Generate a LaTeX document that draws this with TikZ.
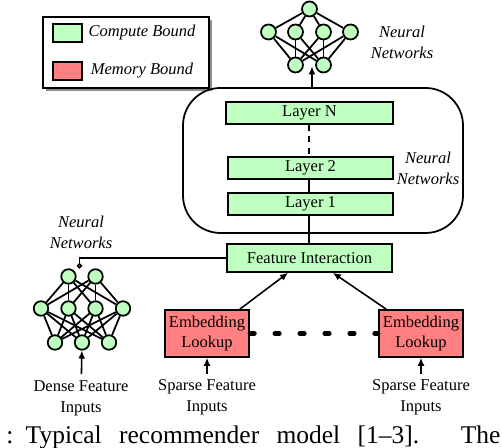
\documentclass[tikz,border=0pt]{standalone}
\usepackage{fontspec}
\setmainfont{Liberation Serif}
\usepackage{tikz}
\usetikzlibrary{calc}
\usetikzlibrary{arrows.meta}
\usetikzlibrary{shadows}
\usepackage{xcolor}
\definecolor{computegreen}{rgb}{0.75,1.0,0.75}
\definecolor{memoryred}{rgb}{1.0,0.5,0.5}
\tikzset{
  txt/.style={font=\fontsize{9.4}{11.8}\selectfont, align=center},
  ittxt/.style={font=\fontsize{9.4}{11.8}\selectfont\itshape, align=center},
  layerbox/.style={draw=black, line width=1pt, fill=computegreen,
    minimum width=3.3cm, minimum height=0.44cm, inner sep=0pt, txt},
  embbox/.style={draw=black, line width=1pt, fill=memoryred,
    minimum width=1.68cm, minimum height=0.94cm, inner sep=0pt, txt},
  swatch/.style={draw=black, line width=1pt, minimum width=0.58cm, minimum height=0.36cm, inner sep=0pt},
  neuron/.style={circle, draw=black, line width=1pt, fill=computegreen,
    minimum size=0.3cm, inner sep=0pt},
  synapse/.style={black, line width=1pt},
  conn/.style={black, line width=0.9pt},
  arr/.style={conn, -{Latex[length=4.5pt, width=4pt]}},
}

\begin{document}
\begin{tikzpicture}

%%%%%%%%%%%%%%%%%%%%%%%%%%%%%%%%%%%%%%%%%%%%%%%%%%%%%%%%%%%%%% Setup
\coordinate (C) at (0, 0);
% just to have the same boundaries as the figure
\useasboundingbox ($(C)+(0,0)$) rectangle ($(C)+(10.04,8.96)$);

%%%%%%%%%%%%%%%%%%%%%%%%%%%%%%%%%%%%%%%%%%%%%%%%%%%%%%%%%%%%%% Legend
\node[draw=black, line width=1pt, fill=white, minimum width=3.32cm, minimum height=1.42cm,
  drop shadow={shadow xshift=0.06cm, shadow yshift=-0.06cm, fill=black!45, opacity=1}]
  (legend) at ($(C)+(2.52,7.91)$) {};
\node[swatch, fill=computegreen] (legcomp) at ($(C)+(1.35,8.30)$) {};
\node[swatch, fill=memoryred] (legmem) at ($(C)+(1.35,7.54)$) {};
\node[ittxt] (legcomptxt) at ($(C)+(2.84,8.30)$) {Compute Bound};
\node[ittxt] (legmemtxt) at ($(C)+(2.84,7.54)$) {Memory Bound};

%%%%%%%%%%%%%%%%%%%%%%%%%%%%%%%%%%%%%%%%%%%%%%%%%%%%%%%%%%%%%% Top network
\node[neuron] (tt)  at ($(C)+(6.19,8.78)$) {};
\node[neuron] (tm1) at ($(C)+(5.37,8.32)$) {};
\node[neuron] (tm2) at ($(C)+(5.91,8.32)$) {};
\node[neuron] (tm3) at ($(C)+(6.47,8.32)$) {};
\node[neuron] (tm4) at ($(C)+(7.01,8.32)$) {};
\node[neuron] (tb1) at ($(C)+(5.91,7.66)$) {};
\node[neuron] (tb2) at ($(C)+(6.47,7.66)$) {};

\draw[synapse] (tt) -- (tm1);
\draw[synapse] (tt) -- (tm2);
\draw[synapse] (tt) -- (tm3);
\draw[synapse] (tt) -- (tm4);

\draw[synapse] (tm1) -- (tb1);
\draw[synapse] (tm1) -- (tb2);
\draw[synapse] (tm2) -- (tb1);
\draw[synapse] (tm2) -- (tb2);
\draw[synapse] (tm3) -- (tb1);
\draw[synapse] (tm3) -- (tb2);
\draw[synapse] (tm4) -- (tb1);
\draw[synapse] (tm4) -- (tb2);

\node[ittxt] (topnntxt) at ($(C)+(8.04,8.12)$) {Neural\\Networks};

%%%%%%%%%%%%%%%%%%%%%%%%%%%%%%%%%%%%%%%%%%%%%%%%%%%%%%%%%%%%%% Layers
\node[draw=black, line width=1pt, rounded corners=0.75cm, minimum width=5.6cm, minimum height=2.9cm]
  (nnbox) at ($(C)+(6.46,5.75)$) {};

\node[layerbox, minimum width=3.34cm] (layerN) at ($(C)+(6.19,6.70)$) {Layer N};
\node[layerbox] (layer2) at ($(C)+(6.21,5.60)$) {Layer 2};
\node[layerbox] (layer1) at ($(C)+(6.21,4.88)$) {Layer 1};

\node[ittxt] (midnntxt) at ($(C)+(8.56,5.60)$) {Neural\\Networks};

\draw[conn, dash pattern=on 3.5pt off 3pt] (layerN.south -| C) ++(6.18,0) coordinate (dashtop) -- (dashtop |- layer2.north);
\draw[conn] (layer1.north -| dashtop) -- (layer2.south -| dashtop);

\coordinate (topin) at ($(C)+(6.24,7.63)$);
\draw[arr] (nnbox.north -| topin) -- (topin);

%%%%%%%%%%%%%%%%%%%%%%%%%%%%%%%%%%%%%%%%%%%%%%%%%%%%%%%%%%%%%% Feature interaction
\node[layerbox, minimum width=3.3cm, minimum height=0.56cm] (fi) at ($(C)+(6.19,3.80)$) {Feature Interaction};
\draw[conn] (layer1.south -| dashtop) -- (fi.north -| dashtop);

%%%%%%%%%%%%%%%%%%%%%%%%%%%%%%%%%%%%%%%%%%%%%%%%%%%%%%%%%%%%%% Left network
\node[neuron, minimum size=0.29cm] (lt1) at ($(C)+(1.37,3.43)$) {};
\node[neuron, minimum size=0.29cm] (lt2) at ($(C)+(1.91,3.43)$) {};
\node[neuron, minimum size=0.29cm] (lm1) at ($(C)+(0.82,2.79)$) {};
\node[neuron, minimum size=0.29cm] (lm2) at ($(C)+(1.37,2.79)$) {};
\node[neuron, minimum size=0.29cm] (lm3) at ($(C)+(1.91,2.79)$) {};
\node[neuron, minimum size=0.29cm] (lm4) at ($(C)+(2.46,2.79)$) {};
\node[neuron, minimum size=0.29cm] (lb1) at ($(C)+(1.10,2.11)$) {};
\node[neuron, minimum size=0.29cm] (lb2) at ($(C)+(1.64,2.11)$) {};
\node[neuron, minimum size=0.29cm] (lb3) at ($(C)+(2.18,2.11)$) {};

\draw[synapse] (lt1) -- (lm1);
\draw[synapse] (lt1) -- (lm2);
\draw[synapse] (lt1) -- (lm3);
\draw[synapse] (lt1) -- (lm4);
\draw[synapse] (lt2) -- (lm1);
\draw[synapse] (lt2) -- (lm2);
\draw[synapse] (lt2) -- (lm3);
\draw[synapse] (lt2) -- (lm4);

\draw[synapse] (lm1) -- (lb1);
\draw[synapse] (lm1) -- (lb2);
\draw[synapse] (lm1) -- (lb3);
\draw[synapse] (lm2) -- (lb1);
\draw[synapse] (lm2) -- (lb2);
\draw[synapse] (lm2) -- (lb3);
\draw[synapse] (lm3) -- (lb1);
\draw[synapse] (lm3) -- (lb2);
\draw[synapse] (lm3) -- (lb3);
\draw[synapse] (lm4) -- (lb1);
\draw[synapse] (lm4) -- (lb2);
\draw[synapse] (lm4) -- (lb3);

\node[ittxt] (leftnntxt) at ($(C)+(1.62,4.32)$) {Neural\\Networks};
\node[txt] (densetxt) at ($(C)+(1.62,1.00)$) {Dense Feature\\Inputs};
\draw[arr] (densetxt) -- (lb2);

\coordinate (nnout) at ($(C)+(1.59,3.59)$);
\draw[conn, -{Circle[open, length=3pt, width=3pt]}] (fi.west) -| (nnout);

%%%%%%%%%%%%%%%%%%%%%%%%%%%%%%%%%%%%%%%%%%%%%%%%%%%%%%%%%%%%%% Embeddings
\node[embbox] (embL) at ($(C)+(4.14,2.29)$) {Embedding\\Lookup};
\node[embbox] (embR) at ($(C)+(8.42,2.29)$) {Embedding\\Lookup};

\draw[black, line width=2.6pt, line cap=round, dash pattern=on 2.6pt off 11.6pt] (embL.east) -- (embR.west);

\draw[arr] ($(embL.north east)+(-0.20,0)$) -- ($(fi.south)+(-0.43,0)$);
\draw[arr] ($(embR.north west)+(0.16,0)$) -- ($(fi.south)+(0.47,0)$);

\node[txt] (sparseLtxt) at ($(C)+(4.14,1.01)$) {Sparse Feature\\Inputs};
\node[txt] (sparseRtxt) at ($(C)+(8.42,1.01)$) {Sparse Feature\\Inputs};
\draw[arr] (sparseLtxt) -- (embL);
\draw[arr] (sparseRtxt) -- (embR);

%%%%%%%%%%%%%%%%%%%%%%%%%%%%%%%%%%%%%%%%%%%%%%%%%%%%%%%%%%%%%% Caption line
\node[anchor=base west, inner sep=0pt, font=\fontsize{14.5}{16}\selectfont] (caption)
  at ($(C)+(0.12,0.08)$) {\makebox[9.88cm][s]{:\hspace{7pt}Typical recommender model [1--3]. The}};

\end{tikzpicture}
\end{document}
